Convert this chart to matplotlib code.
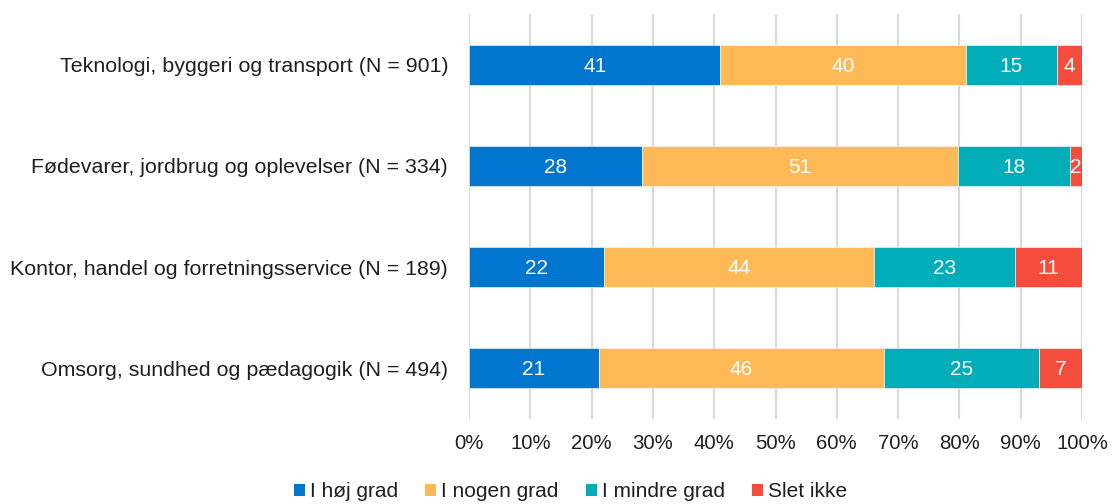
import matplotlib
matplotlib.use("Agg")
import matplotlib.pyplot as plt
import numpy as np
from matplotlib.patches import Patch

plt.rcParams['font.family'] = ['Liberation Sans', 'DejaVu Sans']

categories = [
    "Teknologi, byggeri og transport (N = 901)",
    "Fødevarer, jordbrug og oplevelser (N = 334)",
    "Kontor, handel og forretningsservice (N = 189)",
    "Omsorg, sundhed og pædagogik (N = 494)",
]
series_names = ["I høj grad", "I nogen grad", "I mindre grad", "Slet ikke"]
hoj = [41, 28, 22, 21]
nogen = [40, 51, 44, 46]
mindre = [15, 18, 23, 25]
slet = [4, 2, 11, 7]
tick_labels = ["0%", "10%", "20%", "30%", "40%", "50%", "60%", "70%", "80%", "90%", "100%"]
colors = ["#0076CE", "#FFB957", "#00ADB9", "#F54D3D"]

data = np.array([hoj, nogen, mindre, slet], dtype=float)
totals = data.sum(axis=0)
shares = data / totals * 100

fig = plt.figure(figsize=(11.12, 5.04), dpi=100)
ax = fig.add_axes([0.4218, 0.1687, 0.5512, 0.8035])

text_color = "#1F1F1F"
y = np.arange(len(categories))
left = np.zeros(len(categories))
for i, name in enumerate(series_names):
    bars = ax.barh(y, shares[i], left=left, height=0.394, color=colors[i],
                   edgecolor="white", linewidth=0.4, label=name, zorder=3)
    for j, b in enumerate(bars):
        ax.text(left[j] + shares[i][j] / 2, y[j] + 0.015, f"{int(data[i][j])}",
                ha="center", va="center", color="white", fontsize=15, zorder=4)
    left += shares[i]

ax.set_xlim(0, 100)
ax.set_ylim(3.5, -0.5)
ax.set_xticks(np.arange(0, 101, 10))
ax.set_xticklabels(tick_labels, fontsize=14.7, color=text_color)
ax.set_yticks(y)
ax.set_yticklabels(categories, fontsize=15.4, color=text_color)
ax.tick_params(axis="x", length=0, pad=11)
ax.tick_params(axis="y", length=0, pad=15)
ax.xaxis.grid(True, color="#D9D9D9", linewidth=1.5, zorder=0)
for s in ax.spines.values():
    s.set_visible(False)

handles = [Patch(facecolor=c, label=n) for c, n in zip(colors, series_names)]
fig.legend(handles=handles, loc="center", bbox_to_anchor=(0.513, 0.024), ncol=4,
           frameon=False, fontsize=15, handlelength=0.53, handleheight=0.53,
           handletextpad=0.25, columnspacing=1.3, borderpad=0, borderaxespad=0)
for t in fig.legends[0].get_texts():
    t.set_color(text_color)

fig.savefig("out.png", dpi=100)
